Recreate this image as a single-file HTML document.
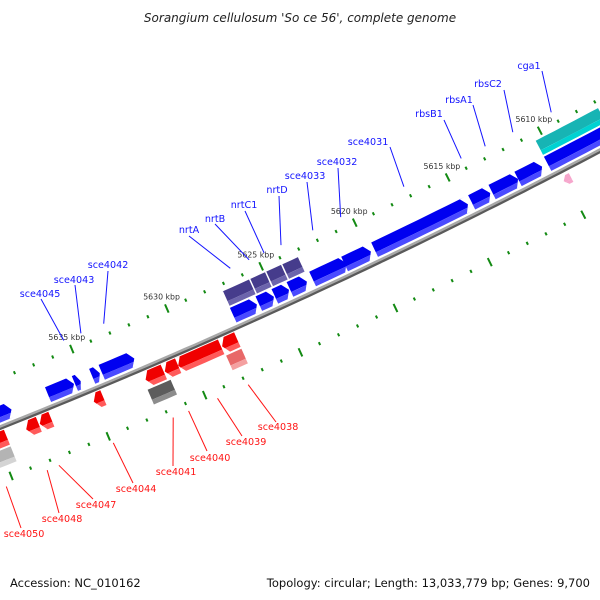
<!DOCTYPE html>
<html><head><meta charset="utf-8">
<style>
html,body{margin:0;padding:0;background:#fff;}
svg{display:block;font-family:"DejaVu Sans","Liberation Sans",sans-serif;}
</style></head>
<body>
<svg id="chart" width="600" height="600" viewBox="0 0 600 600" xmlns="http://www.w3.org/2000/svg">
<rect x="0" y="0" width="600" height="600" fill="#fff"/>
<text x="300" y="22" text-anchor="middle" font-size="12" font-style="italic" fill="#222">Sorangium cellulosum 'So ce 56', complete genome</text>
<g id="backbone-layer"></g>
<g id="tick-layer"></g>
<g id="gene-layer"></g>
<g id="label-layer"></g>
<text x="10" y="587" font-size="11.5" fill="#111">Accession: NC_010162</text>
<text x="590" y="587" text-anchor="end" font-size="11.5" fill="#111">Topology: circular; Length: 13,033,779 bp; Genes: 9,700</text>
</svg>
<script>
// ---- data (kbp) ----
const geneLo   = [5607.0,5610.7,5612.0,5613.5,5614.7,5619.9,5621.2,5623.3,5624.25,5625.05,5625.95,5632.4,5634.2,5635.2,5635.55,5638.8,
                  5625.8,5624.95,5624.1,5623.2,5607.0,5609.7,
                  5627.5,5628.35,5630.6,5631.35,5634.5,5637.2,5637.85,5639.5,
                  5627.5,5631.2,5639.5];
const geneHi   = [5610.4,5612.0,5613.4,5614.5,5619.7,5621.3,5623.0,5624.2,5625.0,5625.85,5627.2,5634.1,5634.6,5635.5,5636.9,5639.9,
                  5627.2,5625.75,5624.9,5624.05,5610.4,5610.1,
                  5628.3,5630.6,5631.3,5632.3,5635.0,5637.8,5638.5,5641.0,
                  5628.3,5632.4,5641.0];
const geneStrand = [1,1,1,1,1,1,1,1,1,1,1,1,1,1,1,1, 0,0,0,0,0,-1, -1,-1,-1,-1,-1,-1,-1,-1, 0,0,0];
const geneRow    = [-1,-1,-1,-1,-1,-1,-1,-1,-1,-1,-1,-1,-1,-1,-1,-1, -2,-2,-2,-2,-2,1, 1,1,1,1,1,1,1,1, 2,2,2];
const geneColor  = ["blue","blue","blue","blue","blue","blue","blue","blue","blue","blue","blue","blue","blue","blue","blue","blue",
                    "purple","purple","purple","purple","cyan","pink",
                    "red","red","red","red","red","red","red","red",
                    "salmon","gray","lightgray"];
const tickStart = 5605, tickEnd = 5642;
const tickLabelKbp = [5610,5615,5620,5625,5630,5635];
const tickLabelText = ["5610 kbp","5615 kbp","5620 kbp","5625 kbp","5630 kbp","5635 kbp"];
const labelNames = ["cga1","rbsC2","rbsA1","rbsB1","sce4031","sce4032","sce4033","nrtD","nrtC1","nrtB","nrtA","sce4042","sce4043","sce4045",
                    "sce4038","sce4039","sce4040","sce4041","sce4044","sce4047","sce4048","sce4050"];
const labelKbp   = [5609.1,5611.2,5612.7,5614.0,5617.1,5620.5,5622.0,5623.7,5624.6,5625.4,5626.4,5633.1,5634.3,5635.2,
                    5627.9,5629.5,5631.0,5631.8,5634.9,5637.7,5638.3,5640.4];
const labelStrand = [1,1,1,1,1,1,1,1,1,1,1,1,1,1,-1,-1,-1,-1,-1,-1,-1,-1];
// ---- layout (screen) ----
const labelPos = [[529,65],[488,83],[459,99],[429,113],[368,141],[337,161],[305,175],[277,189],[244,204],[215,218],[189,229],[108,264],[74,279],[40,293],
                  [278,426],[246,441],[210,457],[176,471],[136,488],[96,504],[62,518],[24,533]];
const leadStart = [[542,71],[504,90],[473,105],[444,120],[390,147],[338,168],[307,182],[279,196],[245,211],[215,224],[189,236],[108,271],[75,285],[41,299],
                   [276,422],[242,436],[207,451],[173,466],[133,483],[93,499],[59,513],[21,528]];

const NS="http://www.w3.org/2000/svg";
function mk(tag, attrs, parent){const e=document.createElementNS(NS,tag);for(const k in attrs)e.setAttribute(k,attrs[k]);parent.appendChild(e);return e;}
// circle through three backbone points
const A=[0,427],B=[300,298],C=[600,150];
function circ(a,b,c){const d=2*(a[0]*(b[1]-c[1])+b[0]*(c[1]-a[1])+c[0]*(a[1]-b[1]));
 const ux=((a[0]**2+a[1]**2)*(b[1]-c[1])+(b[0]**2+b[1]**2)*(c[1]-a[1])+(c[0]**2+c[1]**2)*(a[1]-b[1]))/d;
 const uy=((a[0]**2+a[1]**2)*(c[0]-b[0])+(b[0]**2+b[1]**2)*(a[0]-c[0])+(c[0]**2+c[1]**2)*(b[0]-a[0]))/d;return [ux,uy];}
const cen=circ(A,B,C); const cx=cen[0], cy=cen[1];
const R0=Math.hypot(A[0]-cx,A[1]-cy);
const P25=[261,266],P10=[540,131];
const thA=Math.atan2(P25[1]-cy,P25[0]-cx), thB=Math.atan2(P10[1]-cy,P10[0]-cx);
const dth=(thB-thA)/(5610-5625);
const upperD=(Math.hypot(P25[0]-cx,P25[1]-cy)+Math.hypot(P10[0]-cx,P10[1]-cy))/2-R0;
const P2=[490,262]; const lowerD=Math.hypot(P2[0]-cx,P2[1]-cy)-R0;
function th(k){return thA+(k-5625)*dth;}
function pt(k,d){const t=th(k),r=R0+d;return [cx+r*Math.cos(t),cy+r*Math.sin(t)];}
function P(p){return p[0].toFixed(1)+","+p[1].toFixed(1);}

// backbone
const bb=document.getElementById("backbone-layer");
function arc(d){let s=[];for(let k=5643;k>=5603;k-=0.5)s.push(P(pt(k,d)));return s.join(" ");}
const bb1=mk("polyline",{points:arc(1.5),fill:"none",stroke:"#5a5a5a","stroke-width":3},bb);


const bb2=mk("polyline",{points:arc(-0.5),fill:"none",stroke:"#a8a8a8","stroke-width":2.5},bb);



// ticks
const tl=document.getElementById("tick-layer");
[upperD,lowerD].forEach((D,ri)=>{
 for(let k=tickStart;k<=tickEnd;k++){
  const big=(k%5===0); const h=big?4.5:1.6;
  const ln=mk("line",{x1:pt(k,D-h)[0],y1:pt(k,D-h)[1],x2:pt(k,D+h)[0],y2:pt(k,D+h)[1],stroke:"#138a13","stroke-width":2},tl);
  
  
 }
});
tickLabelKbp.forEach((k,i)=>{
 const p=pt(k,upperD-13);
 const t=mk("text",{x:p[0].toFixed(1),y:(p[1]+3).toFixed(1),"text-anchor":"middle","font-size":"7.8",fill:"#333"},tl);
 t.textContent=tickLabelText[i];
 
 
});

// genes
const gl=document.getElementById("gene-layer");
const colors={blue:["#0000f0","#4a4aff"],purple:["#463c8c","#6c64ac"],cyan:["#17b4b4","#00d2d2"],pink:["#f6a6cc","#f6a6cc"],
 red:["#f00000","#ff5a5a"],salmon:["#e86868","#f4a0a0"],gray:["#5c5c5c","#8c8c8c"],lightgray:["#b4b4b4","#d4d4d4"]};
const rowD={"-1":[-20,-4],"-2":[-38,-22],"1":[4,20],"2":[22,38]};
for(let i=0;i<geneLo.length;i++){
 let [d1,d2]=rowD[geneRow[i]]; if(geneColor[i]==="pink"){d1=6;d2=16;}
 const lo=geneLo[i],hi=geneHi[i],s=geneStrand[i];
 const head=Math.min(0.25,(hi-lo)*0.5);
 function shape(a,b){ // radial band a..b (sub-band of d1..d2)
  const pts=[];const mid=(d1+d2)/2;
  function edgeK(d,end){ // end: 'lo' or 'hi'
   if(s===1&&end==='lo'){return lo+head*Math.abs(d-mid)/((d2-d1)/2);}
   if(s===-1&&end==='hi'){return hi-head*Math.abs(d-mid)/((d2-d1)/2);}
   return end==='lo'?lo:hi;}
  const ds=[a]; if(mid>a&&mid<b)ds.push(mid); ds.push(b);
  ds.forEach(d=>pts.push(pt(edgeK(d,'lo'),d)));
  for(let k=lo;k<=hi;k+=0.5)pts.push(pt(k,b));
  pts.push(pt(hi,b));
  ds.slice().reverse().forEach(d=>pts.push(pt(edgeK(d,'hi'),d)));
  for(let k=hi;k>=lo;k-=0.5)pts.push(pt(k,a));
  return pts.map(P).join(" ");}
 const c=colors[geneColor[i]];
 const g=mk("g",{},gl);
 
 
 const split=d1+(d2-d1)*0.68;
 const p1=mk("polygon",{points:shape(d1,split),fill:c[0]},g);
 
 
 const p2=mk("polygon",{points:shape(split,d2),fill:c[1]},g);
 
 
 if(geneColor[i]==="purple"){
  const sep=mk("polyline",{points:P(pt(hi,d1))+" "+P(pt(hi,d2)),stroke:"#fff","stroke-width":1},g);
  
  
 }
}

// labels
const ll=document.getElementById("label-layer");
labelNames.forEach((n,i)=>{
 const col=labelStrand[i]>0?"#1414ff":"#ff1414";
 const e=pt(labelKbp[i],labelStrand[i]>0?upperD-11:lowerD+8);
 const ln=mk("line",{x1:leadStart[i][0],y1:leadStart[i][1],x2:e[0].toFixed(1),y2:e[1].toFixed(1),stroke:col,"stroke-width":1},ll);
 
 
 const t=mk("text",{x:labelPos[i][0],y:labelPos[i][1]+4,"text-anchor":"middle","font-size":"9.6",fill:col},ll);
 t.textContent=n;
 
 
});
</script>
</body></html>
